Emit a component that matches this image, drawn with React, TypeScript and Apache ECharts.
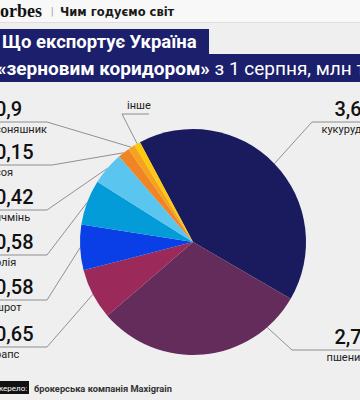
import React, { useEffect, useRef } from "react";
import * as echarts from "echarts";

// ---- data ----
const categories = ["кукурудза", "пшениця", "рапс", "шрот", "олія", "ячмінь", "соя", "соняшник", "інше"];
const values = [3.68, 2.71, 0.65, 0.58, 0.58, 0.42, 0.15, 0.09, 0.08];
const valueLabels = ["3,68", "2,71", "0,65", "0,58", "0,58", "0,42", "0,15", "0,9", ""];
const colors = ["#1a1b5e", "#632c5b", "#9b2a5b", "#0a3ee6", "#039bd8", "#5ac6f0", "#ef8524", "#f5a21e", "#fdc80d"];

const titleLine1 = "Що експортує Україна";
const titleLine2Bold = "«зерновим коридором»";
const titleLine2Rest = " з 1 серпня, млн т";
const sourceLabel = "Джерело:";
const sourceText = "брокерська компанія Maxigrain";

// ---- layout ----
const CX = 193;
const CY = 242;
const R = 113;
const FONT = "Roboto, 'Noto Sans', sans-serif";

type Spot = { side: string; lineY: number; elbowX: number; endX: number; textX: number; anchorDeg?: number };
const spots: Spot[] = [
  { side: "right", lineY: 122, elbowX: 312, endX: 362, textX: 373 },
  { side: "right", lineY: 350, elbowX: 292, endX: 362, textX: 373, anchorDeg: 139 },
  { side: "left", lineY: 347, elbowX: 47, endX: -2, textX: -5 },
  { side: "left", lineY: 300, elbowX: 47, endX: -2, textX: -5 },
  { side: "left", lineY: 255, elbowX: 47, endX: -2, textX: -5 },
  { side: "left", lineY: 210, elbowX: 47, endX: -2, textX: -5 },
  { side: "left", lineY: 165, elbowX: 52, endX: -2, textX: -5 },
  { side: "left", lineY: 122, elbowX: 47, endX: -2, textX: -5 },
  { side: "top", lineY: 114, elbowX: 122, endX: 149, textX: 127 },
];

export default function App() {
  const ref = useRef<HTMLDivElement>(null);
  useEffect(() => {
    document.body.style.margin = "0";
    const chart = echarts.init(ref.current as HTMLDivElement, null, { renderer: "svg" });
    const option: any = {
      animation: false,
      backgroundColor: "#efefef",
      graphic: [
        { type: "rect", shape: { x: 0, y: 0, width: 360, height: 22 }, style: { fill: "#f8f8f8" } },
        { type: "line", shape: { x1: 0, y1: 22.5, x2: 360, y2: 22.5 }, style: { stroke: "#dedede", lineWidth: 1 } },
        {
          type: "text", x: -11, y: 11,
          style: { text: "Forbes", fill: "#111", font: "bold 18px 'Liberation Serif', serif", verticalAlign: "middle" },
        },
        {
          type: "text", x: 51, y: 11,
          style: { text: "|", fill: "#999", font: `10px ${FONT}`, verticalAlign: "middle" },
        },
        {
          type: "text", x: 60, y: 12,
          style: { text: "Чим годуємо світ", fill: "#1a1a1a", font: "bold 11.5px 'DejaVu Sans', sans-serif", verticalAlign: "middle" },
        },
        { type: "rect", shape: { x: 0, y: 29, width: 209, height: 26 }, style: { fill: "#1c1f6b" } },
        { type: "rect", shape: { x: 0, y: 54, width: 360, height: 28 }, style: { fill: "#1c1f6b" } },
        {
          type: "text", x: 2, y: 42,
          style: { text: titleLine1, fill: "#fff", font: `bold 18.5px ${FONT}`, verticalAlign: "middle" },
        },
        {
          type: "text", x: -3, y: 68,
          style: {
            text: `{b|${titleLine2Bold}}{r|${titleLine2Rest}}`,
            verticalAlign: "middle",
            rich: {
              b: { fill: "#fff", fontSize: 19, fontWeight: "bold", fontFamily: FONT },
              r: { fill: "#fff", fontSize: 19, fontWeight: "normal", fontFamily: FONT },
            },
          },
        },
        { type: "rect", shape: { x: 0, y: 381, width: 29, height: 13 }, style: { fill: "#111" } },
        {
          type: "text", x: -9, y: 388,
          style: { text: sourceLabel, fill: "#fff", font: `8px ${FONT}`, verticalAlign: "middle" },
        },
        {
          type: "text", x: 34, y: 388,
          style: { text: sourceText, fill: "#333", font: `bold 9.3px ${FONT}`, verticalAlign: "middle" },
        },
      ],
      series: [
        {
          type: "pie",
          center: [CX, CY],
          radius: [0, R],
          startAngle: 118,
          clockwise: true,
          avoidLabelOverlap: false,
          silent: true,
          data: categories.map((c, i) => ({ name: c, value: values[i], itemStyle: { color: colors[i] } })),
          label: {
            show: true,
            position: "outside",
            formatter: (p: any) =>
              valueLabels[p.dataIndex] ? `{v|${valueLabels[p.dataIndex]}}\n{n|${p.name}}` : `{n|${p.name}}`,
            rich: {
              v: { fontSize: 20, fontWeight: 500, lineHeight: 24, color: "#111", fontFamily: FONT },
              n: { fontSize: 11, lineHeight: 16, color: "#222", fontFamily: FONT },
            },
          },
          labelLine: { show: true, length: 10, length2: 10, lineStyle: { color: "#777", width: 0.8 } },
          labelLayout: (params: any) => {
            const s = spots[params.dataIndex];
            let anchor = params.labelLinePoints ? params.labelLinePoints[0] : [CX, CY];
            if (s.anchorDeg !== undefined) {
              const a = (s.anchorDeg * Math.PI) / 180;
              anchor = [CX + R * Math.sin(a), CY - R * Math.cos(a)];
            }
            const pts = [anchor, [s.elbowX, s.lineY], [s.endX, s.lineY]];
            if (s.side === "top") {
              return { x: s.textX, y: s.lineY - 1, align: "left", verticalAlign: "bottom", labelLinePoints: pts };
            }
            return {
              x: s.textX,
              y: s.lineY - 25,
              align: s.side === "left" ? "left" : "right",
              verticalAlign: "top",
              labelLinePoints: pts,
            };
          },
        },
      ],
    };
    chart.setOption(option);
    return () => chart.dispose();
  }, []);
  return <div ref={ref} style={{ width: 360, height: 400 }} />;
}
